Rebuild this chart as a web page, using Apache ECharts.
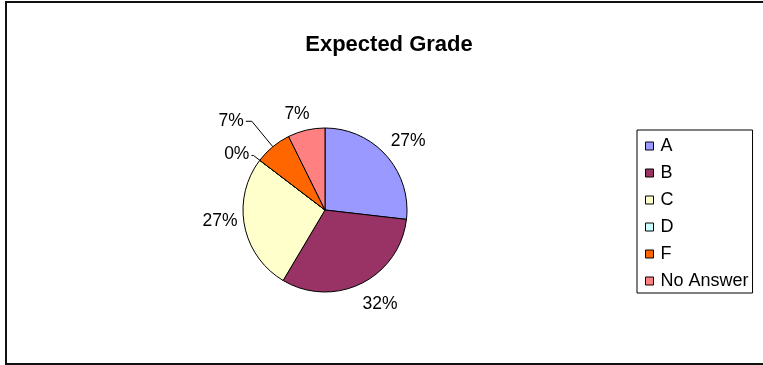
<!DOCTYPE html>
<html><head><meta charset="utf-8">
<script src="https://cdn.jsdelivr.net/npm/echarts@6/dist/echarts.min.js"></script>
<style>
html,body{margin:0;padding:0;background:#fff;}
#wrap{position:relative;width:763px;height:365px;overflow:hidden;}
#c{position:absolute;left:0;top:0;width:763px;height:365px;}
#frame{position:absolute;left:5px;top:1px;width:770px;height:360px;border:2px solid #111;pointer-events:none;}
</style></head>
<body>
<div id="wrap"><div id="c"></div><div id="frame"></div></div>
<script>
var title = 'Expected Grade';
var categories = ['A', 'B', 'C', 'D', 'F', 'No Answer'];
var counts = [11, 13, 11, 0, 3, 3];
var colors = ['#9999FF', '#993366', '#FFFFCC', '#CCFFFF', '#FF6600', '#FF8080'];

// label styling per slice (leader line lengths and text nudges)
var lineCfg = [
  {show: false, length: 22, length2: 0},
  {show: false, length: 23, length2: 0},
  {show: false, length: 7, length2: 0},
  {show: true, length: 8, length2: 2},
  {show: true, length: 33, length2: 6},
  {show: false, length: 16, length2: 0}
];
var labelCfg = [
  {distanceToLabelLine: -12},
  {distanceToLabelLine: -9},
  {distanceToLabelLine: 0},
  {distanceToLabelLine: 2},
  {distanceToLabelLine: 2},
  {distanceToLabelLine: -7}
];
var labelNudgeY = [0, 0, -6, -1, 0, 0];

var data = categories.map(function (n, i) {
  return {
    name: n,
    value: counts[i],
    itemStyle: {color: colors[i]},
    labelLine: lineCfg[i],
    label: labelCfg[i]
  };
});

var chart = echarts.init(document.getElementById('c'), null, {renderer: 'canvas'});
chart.setOption({
  animation: false,
  backgroundColor: '#fff',
  title: {
    text: title,
    left: 384, top: 29,
    textAlign: 'center',
    textStyle: {fontFamily: 'Liberation Sans, Arial', fontSize: 22, fontWeight: 'bold', color: '#000'}
  },
  legend: {
    orient: 'vertical',
    left: 637, top: 130,
    padding: [7, 4, 3, 8],
    borderColor: '#000', borderWidth: 1,
    itemWidth: 8, itemHeight: 8, itemGap: 9,
    icon: 'rect',
    selectedMode: false,
    textStyle: {fontFamily: 'Liberation Sans, Arial', fontSize: 18, color: '#000', padding: [0, 0, 0, 2], lineHeight: 18},
    itemStyle: {borderColor: '#000', borderWidth: 1},
    data: categories
  },
  series: [{
    type: 'pie',
    center: [325, 210],
    radius: 82,
    startAngle: 90,
    clockwise: true,
    avoidLabelOverlap: false,
    stillShowZeroSum: true,
    minShowLabelAngle: 0,
    itemStyle: {borderColor: '#000', borderWidth: 1},
    label: {
      show: true,
      position: 'outside',
      formatter: '{d}%',
      fontFamily: 'Liberation Sans, Arial',
      fontSize: 17.5,
      color: '#000'
    },
    labelLayout: function (p) {
      return {dy: labelNudgeY[p.dataIndex]};
    },
    percentPrecision: 0,
    labelLine: {lineStyle: {color: '#000', width: 1}, smooth: false},
    emphasis: {disabled: true},
    data: data
  }]
});
</script>
</body></html>
